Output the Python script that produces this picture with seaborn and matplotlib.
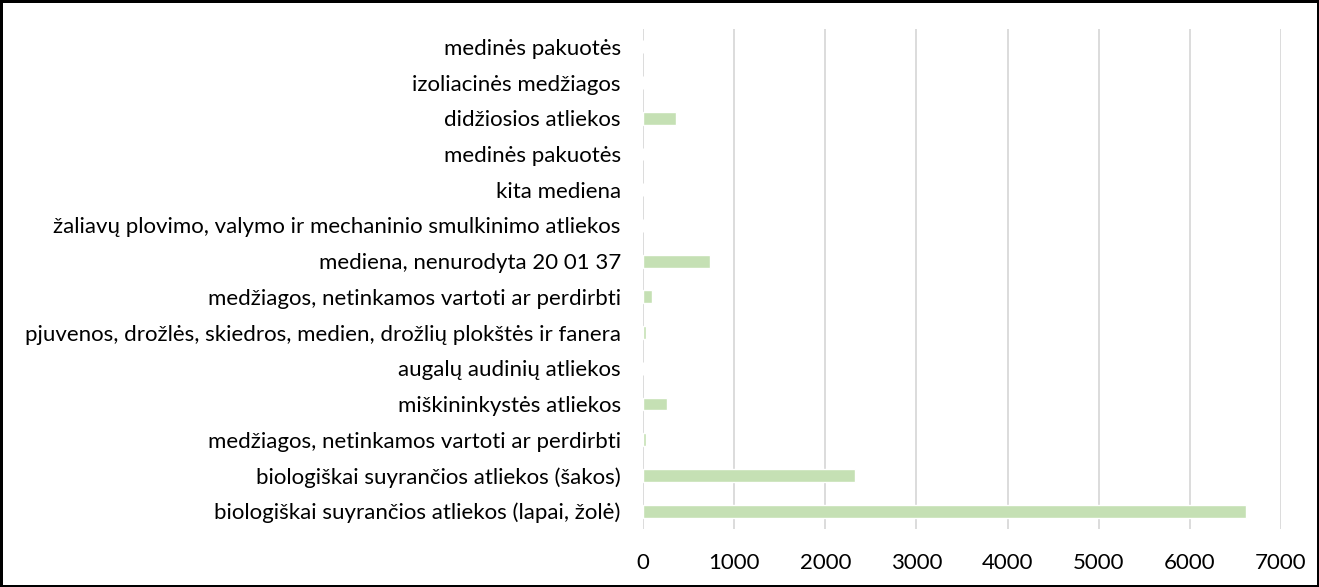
import pandas as pd
import numpy as np
import matplotlib.pyplot as plt
import seaborn as sns

# data (top to bottom as in the chart)
categories = [
    "medinės pakuotės",
    "izoliacinės medžiagos",
    "didžiosios atliekos",
    "medinės pakuotės",
    "kita mediena",
    "žaliavų plovimo, valymo ir mechaninio smulkinimo atliekos",
    "mediena, nenurodyta 20 01 37",
    "medžiagos, netinkamos vartoti ar perdirbti",
    "pjuvenos, drožlės, skiedros, medien, drožlių plokštės ir fanera",
    "augalų audinių atliekos",
    "miškininkystės atliekos",
    "medžiagos, netinkamos vartoti ar perdirbti",
    "biologiškai suyrančios atliekos (šakos)",
    "biologiškai suyrančios atliekos (lapai, žolė)",
]
values = [0, 0, 366, 0, 5, 0, 739, 103, 37, 5, 263, 30, 2321, 6616]
x_ticks = [0, 1000, 2000, 3000, 4000, 5000, 6000, 7000]

sns.set_theme(style="white")
plt.rcParams["font.family"] = ["Lato", "DejaVu Sans"]

# duplicate labels exist, so use a unique row key and relabel afterwards
df = pd.DataFrame({"row": [str(i) for i in range(len(categories))], "value": values})

fig = plt.figure(figsize=(13.19, 5.87), dpi=100)
fig.patch.set_edgecolor("black")
fig.patch.set_linewidth(2.5)
ax = fig.add_axes([0.4875, 0.0988, 0.4837, 0.8518])

sns.barplot(data=df, x="value", y="row", orient="h", color="#C5E0B4",
            width=0.36, saturation=1, ax=ax, zorder=3)

ax.set_xlim(0, 7000)
ax.set_xticks(x_ticks)
ax.set_xticklabels([str(t) for t in x_ticks], fontsize=16, color="black")
ax.set_yticks(range(len(categories)))
ax.set_yticklabels(categories, fontsize=16, color="black")
ax.set_ylim(len(categories) - 0.5, -0.5)
ax.set_xlabel("")
ax.set_ylabel("")

ax.grid(axis="x", color="#D9D9D9", linewidth=1.3, zorder=0)
ax.grid(axis="y", visible=False)
for s in ax.spines.values():
    s.set_visible(False)
ax.tick_params(axis="x", length=0, pad=17)
ax.tick_params(axis="y", length=0, pad=16)

fig.savefig("out.png", dpi=100, edgecolor=fig.get_edgecolor())
